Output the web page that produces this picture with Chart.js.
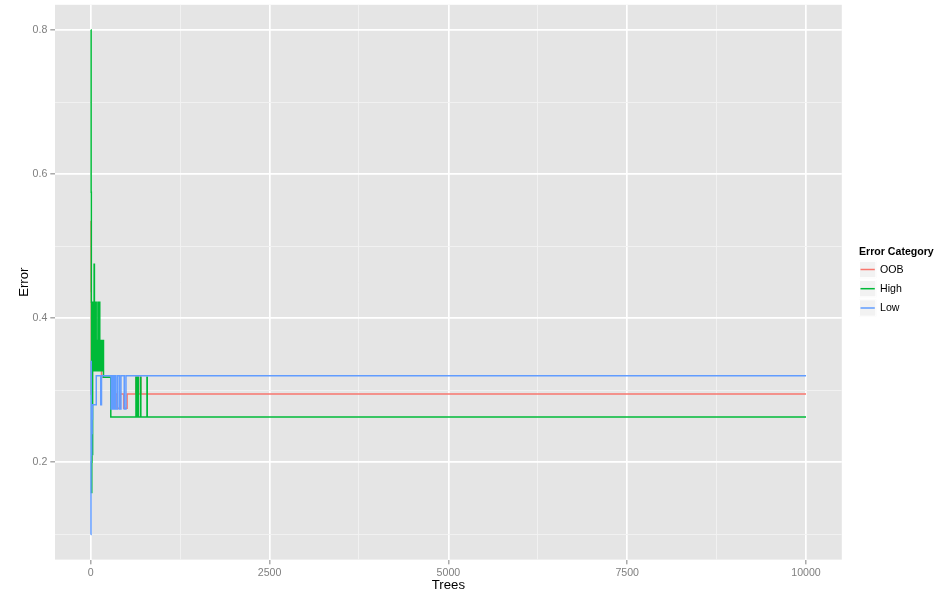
<!DOCTYPE html>
<html>
<head>
<meta charset="utf-8">
<script src="https://cdn.jsdelivr.net/npm/chart.js@4/dist/chart.umd.min.js"></script>
<style>
  html, body { margin: 0; padding: 0; background: #ffffff; }
  #wrap { width: 941px; height: 602px; position: relative; }
</style>
</head>
<body>
<div id="wrap"><canvas id="c" width="941" height="602"></canvas></div>
<script>
// ---- Data ----
const seriesNames = ["OOB", "High", "Low"];
const seriesColors = ["#F8766D", "#00BA38", "#619CFF"];

const oobTrees = [1, 4, 7, 10, 13, 17, 21, 27, 33, 40, 48, 56, 66, 78, 90, 104, 118, 134, 150, 284, 330, 366, 412, 460, 508, 632, 640, 652, 664, 695, 700, 10000];
const oobError = [0.535, 0.437, 0.295, 0.330, 0.300, 0.318, 0.357, 0.330, 0.357, 0.330, 0.357, 0.330, 0.357, 0.330, 0.357, 0.330, 0.357, 0.330, 0.318, 0.275, 0.295, 0.275, 0.295, 0.275, 0.295, 0.318, 0.295, 0.318, 0.295, 0.318, 0.295, 0.295];

const highTrees = [1, 5, 8, 10, 14, 17, 20, 23, 26, 31, 36, 42, 47, 51, 57, 64, 70, 76, 82, 88, 94, 100, 108, 114, 120, 126, 132, 138, 146, 152, 160, 166, 178, 280, 632, 640, 652, 664, 695, 700, 786, 790, 10000];
const highError = [0.800, 0.575, 0.422, 0.158, 0.200, 0.369, 0.242, 0.211, 0.422, 0.369, 0.422, 0.327, 0.475, 0.369, 0.327, 0.369, 0.422, 0.369, 0.327, 0.369, 0.327, 0.422, 0.369, 0.327, 0.422, 0.369, 0.327, 0.369, 0.327, 0.369, 0.327, 0.369, 0.318, 0.263, 0.318, 0.263, 0.318, 0.263, 0.318, 0.263, 0.318, 0.263, 0.263];

const lowTrees = [1, 3, 5, 7, 9, 11, 13, 16, 19, 22, 25, 77, 140, 150, 284, 296, 304, 318, 326, 342, 350, 374, 400, 422, 468, 492, 10000];
const lowError = [0.100, 0.200, 0.340, 0.230, 0.260, 0.210, 0.280, 0.240, 0.280, 0.260, 0.280, 0.320, 0.280, 0.320, 0.274, 0.320, 0.274, 0.320, 0.274, 0.320, 0.274, 0.320, 0.274, 0.320, 0.274, 0.320, 0.320];

const xTickValues = [0, 1250, 2500, 3750, 5000, 6250, 7500, 8750, 10000];
const xLabelValues = [0, 2500, 5000, 7500, 10000];
const yTickValues = [0.1, 0.2, 0.3, 0.4, 0.5, 0.6, 0.7, 0.8];
const yLabelValues = [0.2, 0.4, 0.6, 0.8];

const xTitle = "Trees";
const yTitle = "Error";
const legendTitle = "Error Category";

// ---- Build chart ----
const FONT = "'Liberation Sans', Arial, Helvetica, sans-serif";
Chart.defaults.font.family = FONT;

function toPoints(xs, ys) { return xs.map((x, i) => ({ x: x, y: ys[i] })); }

const isXLabel = v => xLabelValues.some(m => Math.abs(m - v) < 1e-6);
const isYLabel = v => yLabelValues.some(m => Math.abs(m - v) < 1e-6);

const panelBg = {
  id: 'panelBg',
  beforeDraw(chart) {
    const { ctx, chartArea: a } = chart;
    ctx.save();
    ctx.fillStyle = '#E5E5E5';
    ctx.fillRect(a.left, a.top, a.right - a.left, a.bottom - a.top);
    ctx.restore();
  }
};

const ggLegend = {
  id: 'ggLegend',
  afterDraw(chart) {
    const ctx = chart.ctx;
    ctx.save();
    const x0 = 859;
    ctx.fillStyle = '#000000';
    ctx.font = "bold 10.6px " + FONT;
    ctx.textAlign = 'left';
    ctx.textBaseline = 'middle';
    ctx.fillText(legendTitle, x0, 252.5);
    const size = 17.3;
    const centers = [269.5, 288.7, 308.0];
    seriesNames.forEach((name, i) => {
      const cy = centers[i];
      ctx.fillStyle = '#F2F2F2';
      ctx.fillRect(x0, cy - size / 2, size, size);
      ctx.strokeStyle = '#FFFFFF';
      ctx.lineWidth = 1;
      ctx.strokeRect(x0 + 0.5, cy - size / 2 + 0.5, size - 1, size - 1);
      ctx.strokeStyle = seriesColors[i];
      ctx.lineWidth = 1.5;
      ctx.beginPath();
      ctx.moveTo(x0 + 1.5, cy);
      ctx.lineTo(x0 + size - 1.5, cy);
      ctx.stroke();
      ctx.fillStyle = '#000000';
      ctx.font = "10.6px " + FONT;
      ctx.fillText(name, 880, cy + 0.5);
    });
    ctx.restore();
  }
};

const datasets = [
  { label: seriesNames[0], data: toPoints(oobTrees, oobError), order: 3 },
  { label: seriesNames[1], data: toPoints(highTrees, highError), order: 2 },
  { label: seriesNames[2], data: toPoints(lowTrees, lowError), order: 1 }
].map((d, i) => Object.assign(d, {
  borderColor: seriesColors[i],
  backgroundColor: seriesColors[i],
  borderWidth: 1.5,
  pointRadius: 0,
  pointHoverRadius: 0,
  stepped: 'before',
  fill: false,
  tension: 0
}));

new Chart(document.getElementById('c'), {
  type: 'line',
  data: { datasets: datasets },
  plugins: [panelBg, ggLegend],
  options: {
    responsive: false,
    animation: false,
    events: [],
    layout: { padding: { left: 0, right: 99.2, top: 4.8, bottom: 0 } },
    plugins: {
      legend: { display: false },
      tooltip: { enabled: false },
      title: { display: false }
    },
    scales: {
      x: {
        type: 'linear',
        min: -500,
        max: 10500,
        afterBuildTicks: s => { s.ticks = xTickValues.map(v => ({ value: v })); },
        afterFit: s => { s.height = 42.4; s.paddingLeft = 0; s.paddingRight = 0; },
        border: { display: false },
        grid: {
          drawTicks: true,
          tickLength: 4.7,
          color: c => (c.tick && isXLabel(c.tick.value)) ? '#FFFFFF' : '#F2F2F2',
          lineWidth: c => (c.tick && isXLabel(c.tick.value)) ? 1.7 : 0.9,
          tickColor: c => (c.tick && isXLabel(c.tick.value)) ? '#7F7F7F' : 'rgba(0,0,0,0)',
          tickWidth: 1
        },
        ticks: {
          autoSkip: false,
          maxRotation: 0,
          padding: 2,
          color: '#7F7F7F',
          font: { size: 10.6 },
          callback: v => isXLabel(v) ? String(v) : ''
        },
        title: {
          display: true,
          text: xTitle,
          color: '#000000',
          font: { size: 13.2 },
          padding: { top: 0, bottom: 9 }
        }
      },
      y: {
        type: 'linear',
        min: 0.065,
        max: 0.835,
        afterBuildTicks: s => { s.ticks = yTickValues.map(v => ({ value: v })); },
        afterFit: s => { s.width = 55; s.paddingTop = 0; s.paddingBottom = 0; },
        border: { display: false },
        grid: {
          drawTicks: true,
          tickLength: 4.7,
          color: c => (c.tick && isYLabel(c.tick.value)) ? '#FFFFFF' : '#F2F2F2',
          lineWidth: c => (c.tick && isYLabel(c.tick.value)) ? 1.7 : 0.9,
          tickColor: c => (c.tick && isYLabel(c.tick.value)) ? '#7F7F7F' : 'rgba(0,0,0,0)',
          tickWidth: 1
        },
        ticks: {
          autoSkip: false,
          padding: 3,
          color: '#7F7F7F',
          font: { size: 10.6 },
          callback: v => isYLabel(v) ? Number(v).toFixed(1) : ''
        },
        title: {
          display: true,
          text: yTitle,
          color: '#000000',
          font: { size: 13.2 },
          padding: { top: 16, bottom: 0 }
        }
      }
    }
  }
});
</script>
</body>
</html>
